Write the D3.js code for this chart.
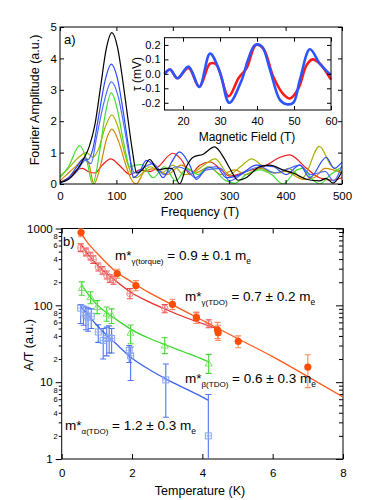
<!DOCTYPE html>
<html><head><meta charset="utf-8">
<script src="https://cdn.jsdelivr.net/npm/d3@7"></script>
<style>body{margin:0;background:#fff}svg{display:block;font-family:"Liberation Sans",Arial,sans-serif}</style>
</head><body><svg id="c" width="392" height="500"></svg>
<script>
// ---------- Panel a: Fourier spectra [frequency (T), amplitude (a.u.)] ----------
const specBlack = [[0,0.05],[15,0.15],[30,0.45],[42,0.8],[52,1.2],[62,1.9],[72,3.1],[82,4.3],[92,4.82],[102,4.35],[112,3.2],[121,2.0],[128,1.1],[136,0.35],[146,0.45],[159,0.78],[174,0.45],[189,0.5],[198,0.5],[212,0.0],[224,0.55],[236,0.85],[254,0.95],[274,1.18],[290,0.85],[301,0.5],[316,0.12],[330,0.2],[354,0.55],[372,0.6],[395,0.45],[413,0.35],[437,0.15],[460,0.1],[472,0.18],[484,0.03],[500,0.4]];
const specBlueA = [[0,0.03],[15,0.2],[30,0.55],[42,0.8],[50,0.78],[58,1.1],[68,2.1],[80,3.3],[91,3.82],[102,3.35],[113,2.2],[123,1.0],[130,0.2],[140,0.35],[153,0.75],[171,0.5],[183,0.2],[198,0.7],[212,1.02],[230,0.6],[242,0.15],[260,0.5],[277,0.55],[295,0.2],[319,0.3],[348,0.6],[378,0.55],[401,0.3],[425,0.6],[443,0.2],[472,0.85],[486,0.5],[500,0.7]];
const specBlueB = [[0,0.05],[15,0.15],[30,0.4],[45,0.75],[55,0.65],[65,1.5],[78,2.6],[91,3.25],[103,2.8],[114,1.8],[124,0.8],[132,0.35],[142,0.45],[165,0.65],[185,0.3],[205,0.55],[225,0.45],[240,0.2],[260,0.45],[285,0.5],[300,0.1],[330,0.4],[355,0.55],[380,0.35],[400,0.45],[425,0.6],[445,0.3],[470,0.4],[485,0.1],[500,0.6]];
const specGreen = [[0,0.2],[15,0.55],[35,1.22],[48,0.7],[58,0.0],[70,1.0],[80,2.2],[91,2.9],[102,2.35],[113,1.3],[124,0.55],[133,0.6],[145,0.62],[165,0.2],[185,0.55],[205,0.1],[225,0.5],[245,0.3],[262,0.55],[295,0.1],[310,0.02],[330,0.3],[355,0.45],[375,0.3],[395,0.0],[420,0.45],[430,0.5],[445,0.2],[460,0.0],[480,0.3],[500,0.55]];
const specOlive = [[0,0.25],[15,0.5],[30,0.8],[47,1.0],[58,0.85],[68,1.1],[80,1.8],[92,2.2],[104,1.75],[115,0.95],[126,0.35],[135,0.2],[160,0.55],[180,0.35],[200,0.6],[220,0.3],[235,0.35],[255,0.6],[275,0.8],[300,0.3],[320,0.55],[340,0.8],[370,0.4],[390,0.35],[405,0.5],[430,0.2],[460,1.2],[480,0.6],[500,0.4]];
const specGold = [[0,0.1],[15,0.35],[30,0.6],[45,0.85],[52,0.6],[60,0.0],[72,0.6],[82,1.4],[92,1.75],[104,1.35],[115,0.7],[125,0.2],[135,0.0],[150,0.4],[170,0.5],[190,0.3],[215,0.6],[240,0.35],[265,0.55],[285,0.3],[310,0.45],[330,0.3],[355,0.5],[380,0.35],[400,0.4],[430,0.15],[450,0.2],[470,0.5],[500,0.35]];
const specRed = [[0,0.05],[15,0.2],[30,0.45],[40,0.5],[50,0.4],[62,0.35],[75,0.6],[90,0.8],[105,0.6],[124,0.3],[142,0.45],[159,0.4],[174,0.55],[200,0.98],[218,0.7],[230,0.3],[248,0.6],[266,0.7],[283,0.5],[301,0.25],[330,0.4],[366,0.6],[390,0.85],[407,0.93],[437,0.5],[460,0.2],[484,0.12],[500,0.2]];
const topXTicks = [0,100,200,300,400,500];
const topYTicks = [0,1,2,3,4,5];

// ---------- Inset: torque vs field ----------
const fieldBlue = [15,16.5,18.5,21.5,24.4,27.3,30,32.5,35.9,37.6,39.5,41.3,43.5,46.2,48,49.8,51.6,54.3,57,60];
const tauBlue = [0.0,0.03,-0.03,0.05,-0.09,0.14,0.01,-0.2,-0.04,0.1,0.2,0.19,0.03,-0.18,-0.21,-0.2,-0.04,0.17,0.07,-0.01];
const fieldRed = [15,16.5,18.5,21.5,24.4,27.3,29,32.3,35,37.2,39.7,41.7,44.4,47.1,48.9,51.2,53.4,55,57,60];
const tauRed = [0.0,0.03,-0.03,0.04,-0.09,0.07,0.065,-0.155,-0.03,0.04,0.2,0.175,-0.02,-0.14,-0.17,-0.1,0.06,0.1,0.07,-0.04];
const insetXTicks = [20,30,40,50,60];
const insetYTicks = [0.2,0.1,0.0,-0.1,-0.2];

// ---------- Panel b: A/T vs temperature ----------
const tempOrange = [0.55,1.58,2.11,3.15,3.83,4.43,4.45,5.02,7.0];
const ampOrange = [887,259,181,103,69,48,44,34,15.7];
const hiOrange = [1000,295,210,120,82,60,55,40,22.7];
const loOrange = [780,225,155,88,58,37,35,28,8.5];

const tempRed = [0.54,0.69,0.82,0.90,1.04,1.16,1.28,1.37,1.47,1.94,2.93,3.83,4.18];
const ampRed = [560,495,436,394,316,286,247,223,212,142,91,71,58];
const hiRed = [630,555,490,440,355,320,280,250,240,165,102,80,65];
const loRed = [500,440,390,350,280,255,220,198,188,122,80,63,51];

const tempGreen = [0.57,0.82,1.01,1.28,1.42,1.96,2.93,4.18];
const ampGreen = [168,128,95,78,74,44,30,17.5];
const hiGreen = [202,150,115,95,90,55.5,37.8,23];
const loGreen = [135,105,78,62,58,31.6,23.5,13];

const tempBlue = [0.54,0.62,0.69,0.75,0.84,1.04,1.18,1.28,1.35,1.42,1.92,1.96,2.96,4.17];
const ampBlue = [92,80,74,70,72,45,35,37,38,37,26,22,10.7,2.0];
const hiBlue = [102,98,95,92,90,56,50,52,54,50,30,28.6,17.2,6.9];
const loBlue = [58,55,48,46,50,33,20,22,24,24,18,10.5,3.5,1];

const fitTempOrange = [0.5,0.75,1,1.5,2,2.5,3,4,5,6,7,8];
const fitOrange = [950,640,480,285,200,145,110,64,37,21.5,11.8,6.4];
const fitTempRed = [0.55,0.75,1,1.25,1.5,2,2.5,3,3.5,4,4.45];
const fitRed = [620,460,340,265,215,145,110,87,70,58,49];
const fitTempGreen = [0.55,0.75,1,1.25,1.5,2,2.5,3,3.5,4,4.2];
const fitGreen = [190,140,102,82,68,48,37,30,24.5,20,18.3];
const fitTempBlue = [0.55,0.75,1,1.25,1.5,2,2.5,3,3.5,4,4.17];
const fitBlue = [95,75,55,42,33,20.5,14.5,10.8,8.3,6.4,5.8];

const botXTicks = [0,2,4,6,8];
const botYMajor = [1,10,100,1000];
const botYMinorLabels = [2,4,6,8];

// ================= drawing =================
const svg = d3.select("#c");
const font = '"Liberation Sans",Arial,sans-serif';

// ----- Panel a -----
const tx = d3.scaleLinear([0,500],[60,342]);
const ty = d3.scaleLinear([0,5],[184,27]);
svg.append("clipPath").attr("id","clipTop").append("rect")
  .attr("x",tx(0)).attr("y",ty(5)).attr("width",tx(500)-tx(0)).attr("height",ty(0)-ty(5));
const specLine = d3.line().x(d=>tx(d[0])).y(d=>ty(d[1])).curve(d3.curveMonotoneX);
const gSpec = svg.append("g").attr("clip-path","url(#clipTop)");
[[specRed,"#ee1c1c"],[specGold,"#d08800"],[specOlive,"#a8b000"],[specGreen,"#40dd30"],
 [specBlueB,"#4d6dff"],[specBlueA,"#2a48ff"],[specBlack,"#000000"]].forEach(([d,c])=>{
  gSpec.append("path").attr("d",specLine(d)).attr("fill","none").attr("stroke",c).attr("stroke-width",1.2);
});
svg.append("rect").attr("x",tx(0)).attr("y",ty(5)).attr("width",tx(500)-tx(0)).attr("height",ty(0)-ty(5))
  .attr("fill","none").attr("stroke","#000").attr("stroke-width",1);
// x axis ticks
svg.append("g").attr("transform",`translate(0,${ty(0)})`)
  .call(d3.axisBottom(tx).tickValues(topXTicks).tickSizeInner(-4).tickSizeOuter(0).tickPadding(8).tickFormat(d3.format("d")))
  .call(g=>{g.select(".domain").remove();g.selectAll("text").attr("font-size",11.5).attr("font-family",font).attr("fill","#000");});
svg.append("g").attr("transform",`translate(0,${ty(5)})`)
  .call(d3.axisTop(tx).tickValues(topXTicks).tickSizeInner(-4).tickSizeOuter(0).tickFormat(""))
  .call(g=>g.select(".domain").remove());
svg.append("g").attr("transform",`translate(${tx(0)},0)`)
  .call(d3.axisLeft(ty).tickValues(topYTicks).tickSizeInner(-4).tickSizeOuter(0).tickPadding(3).tickFormat(d3.format("d")))
  .call(g=>{g.select(".domain").remove();g.selectAll("text").attr("font-size",11.5).attr("font-family",font).attr("fill","#000");});
svg.append("g").attr("transform",`translate(${tx(500)},0)`)
  .call(d3.axisRight(ty).tickValues(topYTicks).tickSizeInner(-4).tickSizeOuter(0).tickFormat(""))
  .call(g=>g.select(".domain").remove());
svg.append("text").attr("x",200).attr("y",216).attr("text-anchor","middle").attr("font-size",12.5).text("Frequency (T)");
svg.append("text").attr("transform","translate(39,100) rotate(-90)").attr("text-anchor","middle").attr("font-size",12.5).text("Fourier Amplitude (a.u.)");
svg.append("text").attr("x",64).attr("y",44).attr("font-size",13).text("a)");

// ----- Inset -----
const ix = d3.scaleLinear([15,60],[164.5,331]);
const iy = d3.scaleLinear([-0.25,0.25],[110,37.7]);
svg.append("rect").attr("x",ix(15)).attr("y",iy(0.25)).attr("width",ix(60)-ix(15)).attr("height",iy(-0.25)-iy(0.25))
  .attr("fill","#fff").attr("stroke","none");
const insetLine = d3.line().x(d=>ix(d[0])).y(d=>iy(d[1])).curve(d3.curveCatmullRom);
svg.append("path").attr("d",insetLine(fieldRed.map((f,i)=>[f,tauRed[i]]))).attr("fill","none").attr("stroke","#ff1a1a").attr("stroke-width",2.6);
svg.append("path").attr("d",insetLine(fieldBlue.map((f,i)=>[f,tauBlue[i]]))).attr("fill","none").attr("stroke","#2d55ff").attr("stroke-width",2.6);
svg.append("rect").attr("x",ix(15)).attr("y",iy(0.25)).attr("width",ix(60)-ix(15)).attr("height",iy(-0.25)-iy(0.25))
  .attr("fill","none").attr("stroke","#000").attr("stroke-width",1);
svg.append("g").attr("transform",`translate(0,${iy(-0.25)})`)
  .call(d3.axisBottom(ix).tickValues(insetXTicks).tickSizeInner(-4).tickSizeOuter(0).tickPadding(7).tickFormat(d3.format("d")))
  .call(g=>{g.select(".domain").remove();g.selectAll("text").attr("font-size",11).attr("font-family",font).attr("fill","#000");});
svg.append("g").attr("transform",`translate(0,${iy(0.25)})`)
  .call(d3.axisTop(ix).tickValues(insetXTicks).tickSizeInner(-4).tickSizeOuter(0).tickFormat(""))
  .call(g=>g.select(".domain").remove());
svg.append("g").attr("transform",`translate(${ix(15)},0)`)
  .call(d3.axisLeft(iy).tickValues(insetYTicks).tickSizeInner(-4).tickSizeOuter(0).tickPadding(4).tickFormat(d3.format(".1f")))
  .call(g=>{g.select(".domain").remove();g.selectAll("text").attr("font-size",11).attr("font-family",font).attr("fill","#000").text(d=>d3.format(".1f")(d).replace("−","-"));});
svg.append("g").attr("transform",`translate(${ix(60)},0)`)
  .call(d3.axisRight(iy).tickValues(insetYTicks).tickSizeInner(-4).tickSizeOuter(0).tickFormat(""))
  .call(g=>g.select(".domain").remove());
svg.append("text").attr("x",247).attr("y",141).attr("text-anchor","middle").attr("font-size",12).text("Magnetic Field (T)");
svg.append("text").attr("transform","translate(141,74) rotate(-90)").attr("text-anchor","middle").attr("font-size",12).text("τ (mV)");

// ----- Panel b -----
const bx = d3.scaleLinear([0,8],[61.7,343]);
const by = d3.scaleLog([1,1000],[459,228.5]);
svg.append("clipPath").attr("id","clipBot").append("rect")
  .attr("x",bx(0)).attr("y",by(1000)).attr("width",bx(8)-bx(0)).attr("height",by(1)-by(1000));
svg.append("rect").attr("x",bx(0)).attr("y",by(1000)).attr("width",bx(8)-bx(0)).attr("height",by(1)-by(1000))
  .attr("fill","none").attr("stroke","#000").attr("stroke-width",1);

// ticks
svg.append("g").attr("transform",`translate(0,${by(1)})`)
  .call(d3.axisBottom(bx).tickValues(botXTicks).tickSizeInner(-5).tickSizeOuter(0).tickPadding(10).tickFormat(d3.format("d")))
  .call(g=>{g.select(".domain").remove();g.selectAll("text").attr("font-size",11.5).attr("font-family",font).attr("fill","#000");});
svg.append("g").attr("transform",`translate(0,${by(1000)})`)
  .call(d3.axisTop(bx).tickValues(botXTicks).tickSizeInner(-5).tickSizeOuter(0).tickFormat(""))
  .call(g=>g.select(".domain").remove());
const allLogTicks = [];
[1,10,100].forEach(dec=>{for(let k=1;k<10;k++) allLogTicks.push(dec*k);});
allLogTicks.push(1000);
const minorTicks = allLogTicks.filter(v=>!botYMajor.includes(v));
svg.append("g").attr("transform",`translate(${bx(0)},0)`)
  .call(d3.axisLeft(by).tickValues(botYMajor).tickSizeInner(6).tickSizeOuter(0).tickPadding(3).tickFormat(d3.format("d")))
  .call(g=>{g.select(".domain").remove();g.selectAll("text").attr("font-size",11.5).attr("font-family",font).attr("fill","#000");});
svg.append("g").attr("transform",`translate(${bx(0)},0)`)
  .call(d3.axisLeft(by).tickValues(minorTicks).tickSizeInner(3).tickSizeOuter(0).tickPadding(1)
    .tickFormat(d=>{const m=Math.round(d/Math.pow(10,Math.floor(Math.log10(d)+1e-9)));return botYMinorLabels.includes(m)?String(m):"";}))
  .call(g=>{g.select(".domain").remove();g.selectAll("text").attr("font-size",7.5).attr("font-family",font).attr("fill","#000");});
svg.append("g").attr("transform",`translate(${bx(8)},0)`)
  .call(d3.axisRight(by).tickValues(allLogTicks).tickSizeInner(-4).tickSizeOuter(0).tickFormat(""))
  .call(g=>{g.select(".domain").remove();g.selectAll("line").filter(d=>botYMajor.includes(d)).attr("x2",-7);});

const gB = svg.append("g").attr("clip-path","url(#clipBot)");
function fitLine(ts, vs, color){
  const ln = d3.line().x(d=>bx(d[0])).y(d=>by(d[1])).curve(d3.curveMonotoneX);
  gB.append("path").attr("d",ln(ts.map((t,i)=>[t,vs[i]]))).attr("fill","none").attr("stroke",color).attr("stroke-width",1.3);
}
function errBars(ts, hi, lo, color){
  ts.forEach((t,i)=>{
    const x=bx(t), y1=by(hi[i]), y2=by(Math.max(lo[i],1));
    gB.append("line").attr("x1",x).attr("x2",x).attr("y1",y1).attr("y2",y2).attr("stroke",color).attr("stroke-width",1.1);
    gB.append("line").attr("x1",x-3).attr("x2",x+3).attr("y1",y1).attr("y2",y1).attr("stroke",color).attr("stroke-width",1.1);
    if(lo[i]>1) gB.append("line").attr("x1",x-3).attr("x2",x+3).attr("y1",y2).attr("y2",y2).attr("stroke",color).attr("stroke-width",1.1);
  });
}
// blue
errBars(tempBlue,hiBlue,loBlue,"#4f74f0");
fitLine(fitTempBlue,fitBlue,"#3a63ee");
tempBlue.forEach((t,i)=>{
  const x=bx(t), y=by(ampBlue[i]);
  gB.append("rect").attr("x",x-3).attr("y",y-3).attr("width",6).attr("height",6).attr("fill","none").attr("stroke","#8aa4f5").attr("stroke-width",1);
  gB.append("path").attr("d",`M${x-3},${y}H${x+3}M${x},${y-3}V${y+3}`).attr("stroke","#8aa4f5").attr("stroke-width",0.8);
});
// green
errBars(tempGreen,hiGreen,loGreen,"#44d633");
fitLine(fitTempGreen,fitGreen,"#3ad62a");
tempGreen.forEach((t,i)=>{
  const x=bx(t), y=by(ampGreen[i]);
  gB.append("path").attr("d",`M${x},${y-3.5}L${x+3.5},${y+2.5}L${x-3.5},${y+2.5}Z`).attr("fill","none").attr("stroke","#7ee06e").attr("stroke-width",1);
});
// red
errBars(tempRed,hiRed,loRed,"#ea4a4a");
fitLine(fitTempRed,fitRed,"#e52a2a");
tempRed.forEach((t,i)=>{
  const x=bx(t), y=by(ampRed[i]);
  gB.append("circle").attr("cx",x).attr("cy",y).attr("r",3.2).attr("fill","none").attr("stroke","#f08a8a").attr("stroke-width",1);
  gB.append("path").attr("d",`M${x-3},${y}H${x+3}M${x},${y-3}V${y+3}`).attr("stroke","#f08a8a").attr("stroke-width",0.8);
});
// orange
errBars(tempOrange,hiOrange,loOrange,"#ff8a5c");
fitLine(fitTempOrange,fitOrange,"#ff5a1a");
tempOrange.forEach((t,i)=>{
  gB.append("circle").attr("cx",bx(t)).attr("cy",by(ampOrange[i])).attr("r",3.6).attr("fill","#ff4d00");
});

svg.append("text").attr("x",200).attr("y",495).attr("text-anchor","middle").attr("font-size",12.5).text("Temperature (K)");
svg.append("text").attr("transform","translate(33,345) rotate(-90)").attr("text-anchor","middle").attr("font-size",12.5).text("A/T (a.u.)");
svg.append("text").attr("x",63).attr("y",246).attr("font-size",13).text("b)");

function massLabel(x,y,sub,val){
  const t=svg.append("text").attr("x",x).attr("y",y).attr("font-size",13.5);
  t.append("tspan").text("m*");
  t.append("tspan").attr("font-size",8).attr("dy",4).text(sub);
  t.append("tspan").attr("dy",-4).text(" = "+val+" m");
  t.append("tspan").attr("font-size",8.5).attr("dy",4).text("e");
}
massLabel(115,260,"γ(torque)","0.9 ± 0.1");
massLabel(185,301,"γ(TDO)","0.7 ± 0.2");
massLabel(185,383,"β(TDO)","0.6 ± 0.3");
massLabel(65,430,"α(TDO)","1.2 ± 0.3");
</script></body></html>
